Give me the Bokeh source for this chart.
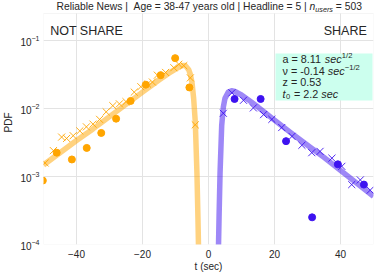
from bokeh.plotting import figure
from bokeh.models import Label, BoxAnnotation, FixedTicker
from bokeh.embed import file_html
from bokeh.resources import INLINE

# ---------------- data ----------------
# empirical (circles)
t_notshare_emp = [-50.2, -46.0, -41.4, -36.9, -32.5, -28.0, -23.6, -19.0, -14.5, -10.1, -5.8]
pdf_notshare_emp = [8.7e-4, 2.24e-3, 1.78e-3, 2.63e-3, 4.37e-3, 7.08e-3, 1.29e-2, 2.24e-2, 3.09e-2, 5.50e-2, 2.04e-2]
t_share_emp = [7.9, 15.8, 23.5, 31.4, 39.2, 47.1]
pdf_share_emp = [1.38e-2, 1.38e-2, 3.31e-3, 2.51e-4, 1.51e-3, 7.6e-4]

# simulated (x markers)
t_notshare_sim = [-49.5, -47.0, -44.5, -43.0, -41.0, -39.0, -37.0, -35.0, -33.0, -31.0, -29.0, -27.0,
                  -25.0, -22.5, -20.5, -18.5, -17.0, -15.5, -13.0, -10.5, -9.0, -7.5, -5.5, -4.0]
pdf_notshare_sim = [1.58e-3, 2.40e-3, 3.80e-3, 3.63e-3, 3.98e-3, 4.68e-3, 5.37e-3, 5.89e-3, 6.92e-3, 8.91e-3,
                    1.10e-2, 1.17e-2, 1.26e-2, 1.74e-2, 2.09e-2, 2.29e-2, 2.45e-2, 3.09e-2, 3.39e-2, 3.98e-2,
                    4.47e-2, 4.27e-2, 2.82e-2, 5.75e-3]
t_share_sim = [4.5, 7.1, 10.6, 13.6, 16.7, 19.2, 22.2, 25.3, 28.3, 31.3, 33.8, 37.4, 40.4, 43.4, 46.0, 49.0]
pdf_share_sim = [8.51e-3, 1.70e-2, 1.32e-2, 1.02e-2, 8.13e-3, 6.92e-3, 5.25e-3, 3.89e-3, 2.88e-3, 2.24e-3,
                 2.34e-3, 1.86e-3, 1.41e-3, 7.6e-4, 8.9e-4, 6.3e-4]

# fitted model (thick lines)
t_notshare_fit = [-50, -45, -40, -35, -30, -25, -20, -15, -12, -10, -9, -8, -7, -6, -5.5, -5.0, -4.5, -4.0, -3.5, -3.2, -3.0]
pdf_notshare_fit = [1.48e-3, 2.24e-3, 3.39e-3, 5.01e-3, 7.59e-3, 1.15e-2, 1.74e-2, 2.63e-2, 3.31e-2, 3.80e-2, 4.07e-2,
                    4.27e-2, 4.27e-2, 3.72e-2, 3.16e-2, 2.40e-2, 1.41e-2, 6.31e-3, 1.12e-3, 2.51e-4, 7.9e-5]
t_share_fit = [3.0, 3.2, 3.5, 4.0, 4.5, 5.0, 6.0, 7.0, 8.0, 10, 12, 15, 20, 25, 30, 35, 40, 45, 50]
pdf_share_fit = [7.9e-5, 2.51e-4, 1.12e-3, 5.62e-3, 1.05e-2, 1.41e-2, 1.74e-2, 1.82e-2, 1.78e-2, 1.58e-2, 1.35e-2,
                 1.05e-2, 6.76e-3, 4.37e-3, 2.88e-3, 1.91e-3, 1.23e-3, 7.9e-4, 5.1e-4]

x_ticks = [-40, -20, 0, 20, 40]
x_tick_labels = {-40: "\u221240", -20: "\u221220", 0: "0", 20: "20", 40: "40"}

FONT = "Liberation Sans"
TXT = "#262626"
ORANGE = "#FFA500"
PURPLE = "#3D12F0"

# Axes box: x from -50 to 50, y from 1e-4 to 10**-0.603 (68 px per decade).
# The plotting frame is extended upward to the canvas top so the title sits inside it.
Y_AXES_TOP = 10 ** -0.603
FRAME_LEFT_REAL = 40
FRAME_BOTTOM_REAL = 245

p = figure(frame_width=330, frame_height=244, x_range=(-50, 50), y_range=(1e-4, 10 ** -0.412),
           y_axis_type="log", output_backend="svg", toolbar_location=None,
           min_border_left=39, min_border_right=4, min_border_top=0, min_border_bottom=0,
           background_fill_color="white", border_fill_color="white")

p.outline_line_color = None
p.grid.grid_line_color = "#E3E3E3"
p.grid.grid_line_width = 1

p.xaxis.ticker = FixedTicker(ticks=x_ticks)
p.xaxis.major_label_overrides = x_tick_labels
for ax in (p.xaxis, p.yaxis):
    ax.axis_line_color = None
    ax.major_tick_line_color = None
    ax.minor_tick_line_color = None
    ax.major_tick_out = 0
    ax.major_tick_in = 0
    ax.minor_tick_out = 0
    ax.minor_tick_in = 0
    ax.major_label_text_font = FONT
    ax.major_label_text_font_size = "10px"
    ax.major_label_text_color = TXT
    ax.axis_label_text_font = FONT
    ax.axis_label_text_font_size = "10px"
    ax.axis_label_text_font_style = "normal"
    ax.axis_label_text_color = TXT
p.xaxis.major_label_standoff = 5
p.yaxis.major_label_standoff = 4
p.xaxis.axis_label = "t (sec)"
p.xaxis.axis_label_standoff = 0
p.yaxis.axis_label = "PDF"
p.yaxis.axis_label_standoff = 3

# fitted lines
p.line(t_notshare_fit, pdf_notshare_fit, line_color=ORANGE, line_alpha=0.5, line_width=5.5, line_join="round")
p.line(t_share_fit, pdf_share_fit, line_color=PURPLE, line_alpha=0.5, line_width=5.5, line_join="round")
# simulated
p.scatter(t_notshare_sim, pdf_notshare_sim, marker="x", size=10, line_color=ORANGE, line_width=1, line_alpha=0.9)
p.scatter(t_share_sim, pdf_share_sim, marker="x", size=10, line_color=PURPLE, line_width=1, line_alpha=0.9)
# empirical
p.scatter(t_notshare_emp, pdf_notshare_emp, marker="circle", size=7, fill_color=ORANGE, line_color=ORANGE)
p.scatter(t_share_emp, pdf_share_emp, marker="circle", size=7, fill_color=PURPLE, line_color=PURPLE)

# white band above the axes box (hides grid lines where the title sits)
p.add_layout(BoxAnnotation(bottom=Y_AXES_TOP, fill_color="white", fill_alpha=1.0, line_color=None))
# axes box outline
p.add_layout(BoxAnnotation(left=-50, right=50, bottom=1e-4, top=Y_AXES_TOP,
                           fill_alpha=0.0, line_color="#DDDDDD", line_width=1))


def lab(text, rx, ry, size="10px", style="normal", align="left"):
    p.add_layout(Label(x=rx - FRAME_LEFT_REAL, y=FRAME_BOTTOM_REAL - ry, x_units="screen", y_units="screen",
                       text=text, text_font=FONT, text_font_size=size, text_font_style=style,
                       text_color=TXT, text_align=align, text_baseline="middle"))


# title pieces (y = visual centre)
lab("Reliable News | \u00a0Age = 38-47 years old | Headline = 5 |", 53, 7.3, size="10.3px")
lab("n", 306.1, 7.3, size="10.3px", style="italic")
lab("users", 311.8, 10.3, size="7.2px", style="italic")
lab("= 503", 332.3, 7.3, size="10.3px")

# side texts
lab("NOT SHARE", 46.7, 31.3, size="12.5px")
lab("SHARE", 363.3, 31.3, size="12.5px", align="right")

# parameter box
p.add_layout(BoxAnnotation(left=272 - FRAME_LEFT_REAL, right=369 - FRAME_LEFT_REAL,
                           top=FRAME_BOTTOM_REAL - 54, bottom=FRAME_BOTTOM_REAL - 101,
                           left_units="screen", right_units="screen", top_units="screen", bottom_units="screen",
                           fill_color="#CCFFEE", fill_alpha=1.0, line_color=None))

L1, L2, L3, L4 = 59.3, 71.0, 82.7, 94.4
lab("a = 8.11", 279, L1, size="10.8px")
lab("sec", 321.3, L1, size="10.8px", style="italic")
lab("1/2", 338.3, L1 - 3.2, size="7.6px")
lab("\u03bd = -0.14", 279, L2, size="10.8px")
lab("sec", 324.3, L2, size="10.8px", style="italic")
lab("\u22121/2", 341.3, L2 - 3.2, size="7.6px")
lab("z = 0.53", 279, L3, size="10.8px")
lab("t", 279, L4, size="10.8px", style="italic")
lab("0", 282.4, L4 + 2.2, size="7.6px")
lab("= 2.2", 290.5, L4, size="10.8px")
lab("sec", 317.8, L4, size="10.8px", style="italic")

open("out.html", "w").write(file_html(p, INLINE))
